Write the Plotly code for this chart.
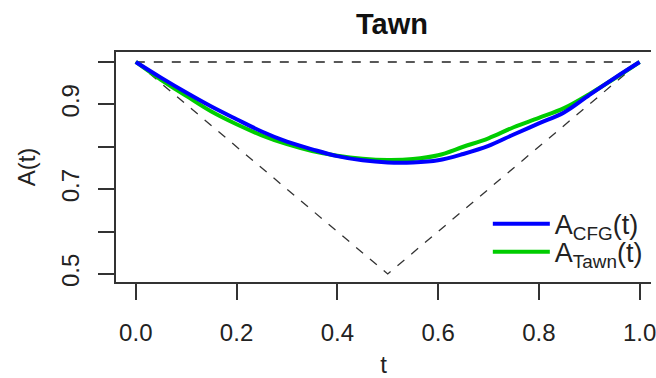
import plotly.graph_objects as go

t_vals = [0.00, 0.05, 0.10, 0.15, 0.20, 0.25, 0.30, 0.35, 0.40, 0.45, 0.50,
          0.55, 0.60, 0.65, 0.70, 0.75, 0.80, 0.85, 0.90, 0.95, 1.00]
a_cfg = [1.000, 0.963, 0.928, 0.895, 0.865, 0.836, 0.812, 0.794, 0.778, 0.768, 0.763,
         0.763, 0.768, 0.783, 0.802, 0.829, 0.855, 0.881, 0.922, 0.962, 1.000]
a_tawn = [1.000, 0.958, 0.920, 0.883, 0.853, 0.827, 0.806, 0.790, 0.779, 0.772, 0.769,
          0.771, 0.780, 0.800, 0.820, 0.846, 0.868, 0.891, 0.924, 0.961, 1.000]
upper_t = [0.0, 1.0]
upper_a = [1.0, 1.0]
lower_t = [0.0, 0.5, 1.0]
lower_a = [1.0, 0.5, 1.0]
x_ticks = [0.0, 0.2, 0.4, 0.6, 0.8, 1.0]
x_labels = ["0.0", "0.2", "0.4", "0.6", "0.8", "1.0"]
y_ticks = [0.5, 0.7, 0.9]
y_labels = ["0.5", "0.7", "0.9"]
y_minor_ticks = [0.6, 0.8, 1.0]

FONT = "Liberation Sans, Arial, sans-serif"

fig = go.Figure()
fig.add_trace(go.Scatter(x=upper_t, y=upper_a, mode="lines", showlegend=False,
                         line=dict(color="#222222", width=1.5, dash="dash")))
fig.add_trace(go.Scatter(x=lower_t, y=lower_a, mode="lines", showlegend=False,
                         line=dict(color="#333333", width=1.3, dash="dash")))
fig.add_trace(go.Scatter(x=t_vals, y=a_tawn, mode="lines", name="A<sub>Tawn</sub>(t)",
                         legend="legend2", line=dict(color="#00CD00", width=4, shape="spline")))
fig.add_trace(go.Scatter(x=t_vals, y=a_cfg, mode="lines", name="A<sub>CFG</sub>(t)",
                         legend="legend", line=dict(color="#0000FF", width=4, shape="spline")))

leg_common = dict(x=0.695, xanchor="left", yanchor="middle",
                  bgcolor="rgba(0,0,0,0)", borderwidth=0,
                  font=dict(size=27, color="#222222", family=FONT),
                  tracegroupgap=0, itemwidth=57)

fig.update_layout(
    width=656, height=378,
    margin=dict(l=116, r=0, t=52, b=95),
    paper_bgcolor="white", plot_bgcolor="white",
    font=dict(family=FONT, size=24, color="#222222"),
    title=dict(text="<b>Tawn</b>", x=392/656, xref="container", xanchor="center",
               y=1 - 24/378, yref="container", yanchor="middle",
               font=dict(size=29, color="#111111", family=FONT)),
    showlegend=True,
    legend=dict(y=0.251, **leg_common),
    legend2=dict(y=0.130, **leg_common),
    xaxis=dict(range=[-0.0393, 1.0226], tickvals=x_ticks, ticktext=x_labels,
               ticks="outside", ticklen=16, tickwidth=1.5, tickcolor="#333333",
               ticklabeloverflow="allow",
               showline=True, linecolor="#333333", linewidth=1.5, mirror=True,
               showgrid=False, zeroline=False, ticklabelstandoff=12,
               title=dict(text="t", standoff=16, font=dict(size=24))),
    yaxis=dict(range=[0.481, 1.0235], tickvals=y_ticks, ticktext=y_labels,
               ticks="outside", ticklen=16, tickwidth=1.5, tickcolor="#333333",
               tickangle=-90,
               minor=dict(tickvals=y_minor_ticks, ticks="outside", ticklen=16,
                          tickwidth=1.5, tickcolor="#333333", showgrid=False),
               showline=True, linecolor="#333333", linewidth=1.5, mirror=False,
               showgrid=False, zeroline=False, ticklabelstandoff=10,
               title=dict(text="A(t)", standoff=14, font=dict(size=24))),
)

fig.write_html("out.html")
